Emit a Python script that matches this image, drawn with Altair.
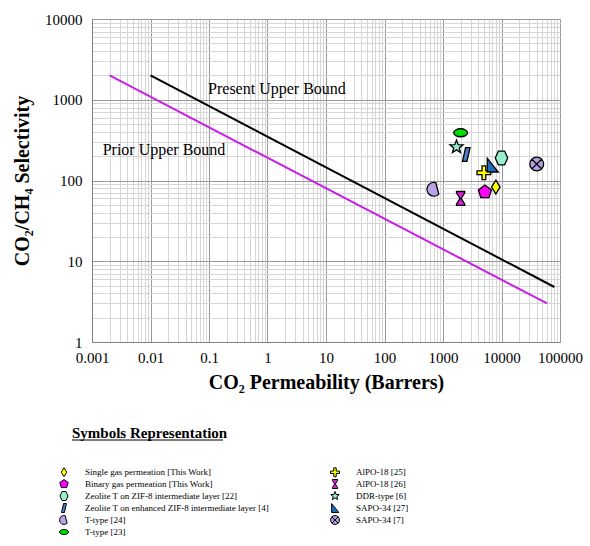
import altair as alt
import pandas as pd

# ---- data ----
names = [
    "Single gas permeation [This Work]",
    "Binary gas permeation [This Work]",
    "Zeolite T on ZIF-8 intermediate layer [22]",
    "Zeolite T on enhanced ZIF-8 intermediate layer [4]",
    "T-type [24]",
    "T-type [23]",
    "AlPO-18 [25]",
    "AlPO-18 [26]",
    "DDR-type [6]",
    "SAPO-34 [27]",
    "SAPO-34 [7]",
]
perm = [8000, 5200, 10000, 2500, 700, 2000, 5000, 2000, 1700, 7000, 40000]
selec = [83, 72, 190, 210, 78, 390, 125, 60, 260, 155, 160]

present_x = [0.01, 80000]
present_y = [2000, 4.8]
prior_x = [0.002, 60000]
prior_y = [2000, 3]

label_text = ["Present Upper Bound", "Prior Upper Bound"]
label_x = [1.45, 0.017]
label_y = [1360, 239]

x_major = [0.001, 0.01, 0.1, 1, 10, 100, 1000, 10000, 100000]
y_major = [1, 10, 100, 1000, 10000]

legend_title = ["Symbols Representation"]

# ---- styles ----
colors = ["#ffff00", "#ff00ff", "#99eecc", "#4a7fc8", "#b9a3e6", "#00dd00",
          "#ffff00", "#e020e0", "#99eecc", "#1f6fc0", "#b39ddb"]
shapes = [
    "M0,-1 L0.62,0 L0,1 L-0.62,0 Z",
    "M0,-1 L0.951,-0.309 L0.588,0.809 L-0.588,0.809 L-0.951,-0.309 Z",
    "M-0.45,-1 L0.45,-1 L0.9,0 L0.45,1 L-0.45,1 L-0.9,0 Z",
    "M-0.1,-1 L0.55,-1 L0.1,1 L-0.55,1 Z",
    "M0.259,-0.966 A1,1 0 1,0 0.707,0.707 Z",
    "M-1,0 A1,0.58 0 1,1 1,0 A1,0.58 0 1,1 -1,0 Z",
    "M-0.27,-1 L0.27,-1 L0.27,-0.27 L1,-0.27 L1,0.27 L0.27,0.27 L0.27,1 L-0.27,1 L-0.27,0.27 L-1,0.27 L-1,-0.27 L-0.27,-0.27 Z",
    "M-0.6,-1 L0.6,-1 L0.6,-0.82 L0.08,0 L0.6,0.82 L0.6,1 L-0.6,1 L-0.6,0.82 L-0.08,0 L-0.6,-0.82 Z",
    "M0,-1 L0.247,-0.340 L0.951,-0.309 L0.399,0.130 L0.588,0.809 L0,0.42 L-0.588,0.809 L-0.399,0.130 L-0.951,-0.309 L-0.247,-0.340 Z",
    "M-0.75,-1 L-0.75,1 L0.85,1 Z",
    "M-1,0 A1,1 0 1,1 1,0 A1,1 0 1,1 -1,0 Z M-0.7,-0.7 L0.7,0.7 M0.7,-0.7 L-0.7,0.7",
]

pts = pd.DataFrame({"name": names, "x": perm, "y": selec})
present = pd.DataFrame({"x": present_x, "y": present_y})
prior = pd.DataFrame({"x": prior_x, "y": prior_y})
labels = pd.DataFrame({"t": label_text, "x": label_x, "y": label_y})
title_df = pd.DataFrame({"t": legend_title})

FONT = "Liberation Serif"
x_vals = [m * k for m in x_major[:-1] for k in range(1, 10)] + [x_major[-1]]
y_vals = [m * k for m in y_major[:-1] for k in range(1, 10)] + [y_major[-1]]
major_test = "abs(log(datum.value)/LN10 - round(log(datum.value)/LN10)) < 0.001"
grid_color = {"condition": {"test": major_test, "value": "#9a9a9a"}, "value": "#d6d6d6"}
label_expr = major_test + " ? format(datum.value, '') : ''"

xscale = alt.Scale(type="log", domain=[0.001, 100000], nice=False)
yscale = alt.Scale(type="log", domain=[1, 10000], nice=False)

xaxis = alt.Axis(values=x_vals, labelExpr=label_expr, gridColor=grid_color, gridOpacity=1,
                 ticks=False, labelPadding=8, labelFontSize=15, labelFont=FONT,
                 labelColor="black", title="CO\u2082 Permeability (Barrers)",
                 titleFont=FONT, titleFontSize=20, titleFontWeight="bold",
                 titleColor="black", titlePadding=7, domainColor="#808080",
                 labelOverlap=False, labelFlush=False)
yaxis = alt.Axis(values=y_vals, labelExpr=label_expr, gridColor=grid_color, gridOpacity=1,
                 ticks=False, labelPadding=10, labelFontSize=15, labelFont=FONT,
                 labelColor="black", title="CO\u2082/CH\u2084 Selectivity",
                 titleFont=FONT, titleFontSize=20, titleFontWeight="bold",
                 titleColor="black", titlePadding=12, domainColor="#808080",
                 labelOverlap=False, labelFlush=False)

base_x = alt.X("x:Q", scale=xscale, axis=xaxis)
base_y = alt.Y("y:Q", scale=yscale, axis=yaxis)

present_line = alt.Chart(present).mark_line(color="black", strokeWidth=2).encode(x=base_x, y=base_y)
prior_line = alt.Chart(prior).mark_line(color="#c81ee6", strokeWidth=2).encode(x="x:Q", y="y:Q")

texts = alt.Chart(labels).mark_text(font=FONT, fontSize=16, color="black").encode(
    x="x:Q", y="y:Q", text="t:N")

points = alt.Chart(pts).mark_point(filled=True, opacity=1, stroke="black", strokeWidth=1.3, size=190).encode(
    x="x:Q", y="y:Q",
    color=alt.Color("name:N", scale=alt.Scale(domain=names, range=colors),
                    legend=alt.Legend(orient="none", legendX=-33, legendY=448, columns=2,
                                      title=None, labelFont=FONT, labelFontSize=9,
                                      labelColor="black", labelLimit=400, symbolSize=80,
                                      symbolStrokeColor="black", symbolStrokeWidth=1,
                                      columnPadding=58, rowPadding=-4.8, labelOffset=16)),
    shape=alt.Shape("name:N", scale=alt.Scale(domain=names, range=shapes)),
)

title_text = alt.Chart(title_df).mark_text(font=FONT, fontSize=15, fontWeight="bold", color="black",
                                           align="left", baseline="alphabetic").encode(
    x=alt.value(-20), y=alt.value(419), text="t:N")

underline = alt.Chart(title_df).mark_rule(color="black", strokeWidth=1).encode(
    x=alt.value(-20), x2=alt.value(131), y=alt.value(421))

chart = alt.layer(present_line, prior_line, texts, points, title_text, underline).properties(
    width=468, height=323,
    autosize=alt.AutoSizeParams(type="none"),
    padding={"left": 92, "top": 19, "right": 30, "bottom": 204},
).configure_view(stroke="#808080", strokeWidth=1).configure(background="white")

chart.save("out.html", embed_options={"renderer": "svg", "actions": False})
